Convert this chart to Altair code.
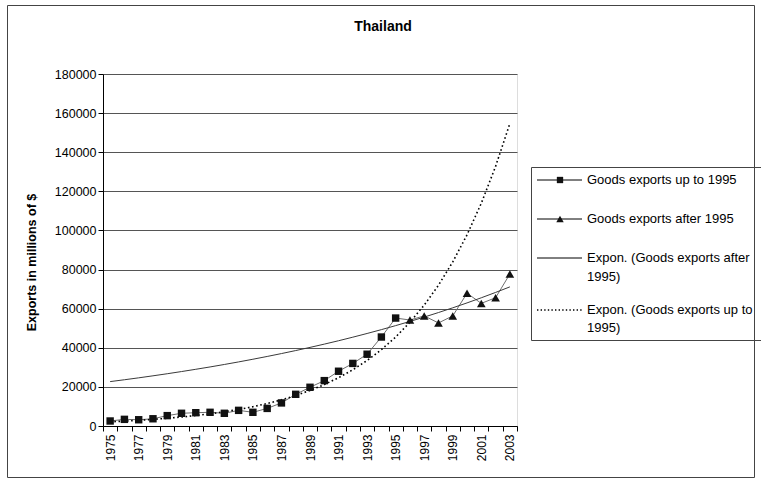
import altair as alt
import pandas as pd

FONT = "Liberation Sans"

# ---- data ----
years = list(range(1975, 2004))
years_up = list(range(1975, 1996))
exports_up = [2560, 3400, 3200, 3700, 5300, 6500, 6800, 7000, 6500, 8000,
              7000, 9000, 11800, 16200, 19800, 23200, 28000, 32000, 36700, 45500, 55200]
years_after = list(range(1995, 2004))
exports_after = [55200, 54200, 56300, 52700, 56300, 67900, 62700, 65600, 77700]
trend_after = [22700, 23650, 24630, 25660, 26720, 27840, 29000, 30200, 31460, 32770,
               34140, 35560, 37040, 38580, 40190, 41860, 43600, 45420, 47310, 49280,
               51330, 53470, 55700, 58020, 60430, 62950, 65570, 68300, 71140]
trend_up = [2135, 2490, 2900, 3380, 3940, 4590, 5350, 6230, 7260, 8460,
            9860, 11490, 13380, 15600, 18170, 21180, 24680, 28760, 33510, 39050,
            45500, 53020, 61790, 72000, 83900, 97770, 113930, 132760, 154700]
legend_labels = ["Goods exports up to 1995", "Goods exports after 1995",
                 "Expon. (Goods exports after", "1995)",
                 "Expon. (Goods exports up to", "1995)"]
chart_title = "Thailand"
y_ticks = list(range(0, 180001, 20000))

df_up = pd.DataFrame({"year": years_up, "value": exports_up})
df_after = pd.DataFrame({"year": years_after, "value": exports_after})
df_tr_after = pd.DataFrame({"year": years, "value": trend_after})
df_tr_up = pd.DataFrame({"year": years, "value": trend_up})
one = pd.DataFrame({"a": [0]})

x_enc = alt.X("year:O",
              scale=alt.Scale(type="band", paddingInner=0, paddingOuter=0, domain=years),
              axis=alt.Axis(title=None, grid=False, tickBand="extent", tickSize=5,
                            tickColor="black", domainColor="black",
                            labelAngle=270, labelAlign="right", labelBaseline="middle",
                            labelPadding=3, labelFont=FONT, labelFontSize=12,
                            labelColor="black",
                            labelExpr="datum.value % 2 == 1 ? datum.label : ''"))
y_enc = alt.Y("value:Q",
              scale=alt.Scale(domain=[0, 180000], nice=False, zero=True),
              axis=alt.Axis(values=y_ticks, format="d", grid=True, gridColor="#555555",
                            gridWidth=1, tickSize=5, tickColor="black",
                            domainColor="black", labelFont=FONT, labelFontSize=12.5,
                            labelColor="black", labelPadding=2,
                            title="Exports in millions of $", titleFont=FONT,
                            titleFontSize=12.5, titleFontWeight="bold", titleColor="black",
                            titleAngle=270, titleAlign="center", titleBaseline="middle",
                            titleX=-72, titleY=188))

line_up = alt.Chart(df_up).mark_line(color="#6e6e6e", strokeWidth=1).encode(x=x_enc, y=y_enc)
line_after = alt.Chart(df_after).mark_line(color="#6e6e6e", strokeWidth=1).encode(x=x_enc, y=y_enc)
tr_after = alt.Chart(df_tr_after).mark_line(color="#3a3a3a", strokeWidth=1).encode(x=x_enc, y=y_enc)
tr_up = alt.Chart(df_tr_up).mark_line(color="black", strokeWidth=1.6,
                                      strokeDash=[1.6, 2.6]).encode(x=x_enc, y=y_enc)
pts_up = alt.Chart(df_up).mark_point(shape="square", filled=True, size=55, color="#111111",
                                     opacity=1).encode(x=x_enc, y=y_enc)
pts_after = alt.Chart(df_after).transform_filter("datum.year > 1995").mark_point(
    shape="triangle-up", filled=True, size=75, color="#111111", opacity=1).encode(x=x_enc, y=y_enc)

# ---- frame, title and legend decoration (pixel positions relative to the plot area) ----
frame = alt.Chart(one).mark_rect(fillOpacity=0, stroke="#444444", strokeWidth=1).encode(
    x=alt.value(-95.5), x2=alt.value(651.5), y=alt.value(-68.5), y2=alt.value(403.5))
title_mark = alt.Chart(one).mark_text(text=chart_title, align="center", baseline="middle",
                                      font=FONT, fontSize=14, fontWeight="bold",
                                      color="black").encode(
    x=alt.value(280), y=alt.value(-47))
leg_box = alt.Chart(one).mark_rect(fillOpacity=0, stroke="#444444", strokeWidth=1).encode(
    x=alt.value(428.5), x2=alt.value(660), y=alt.value(93.5), y2=alt.value(266.5))

sym_rows = [106, 145, 184, 236]
leg_layers = []
for i, yy in enumerate(sym_rows):
    if i < 3:
        m = alt.Chart(one).mark_rule(color="black", strokeWidth=1)
    else:
        m = alt.Chart(one).mark_rule(color="black", strokeWidth=1.4, strokeDash=[1.4, 2.2])
    leg_layers.append(m.encode(x=alt.value(434), x2=alt.value(479), y=alt.value(yy)))
leg_layers.append(alt.Chart(one).mark_point(shape="square", filled=True, size=40,
                                            color="#111111", opacity=1).encode(
    x=alt.value(457), y=alt.value(106)))
leg_layers.append(alt.Chart(one).mark_point(shape="triangle-up", filled=True, size=55,
                                            color="#111111", opacity=1).encode(
    x=alt.value(457), y=alt.value(145)))
text_rows = [106, 145, 184, 203, 236, 254]
for lab, yy in zip(legend_labels, text_rows):
    leg_layers.append(alt.Chart(one).mark_text(text=lab, align="left", baseline="middle",
                                               font=FONT, fontSize=13, color="black").encode(
        x=alt.value(484), y=alt.value(yy)))

chart = alt.layer(
    line_up, line_after, tr_after, tr_up, pts_up, pts_after, frame, title_mark, leg_box,
    *leg_layers
).properties(
    width=414, height=352,
    padding={"left": 103, "top": 74, "right": 244, "bottom": 55},
    autosize=alt.AutoSizeParams(type="none"),
).configure_view(stroke="#808080", strokeWidth=1).configure(background="white")

chart.save("out.html", embed_options={"renderer": "svg", "actions": False})
